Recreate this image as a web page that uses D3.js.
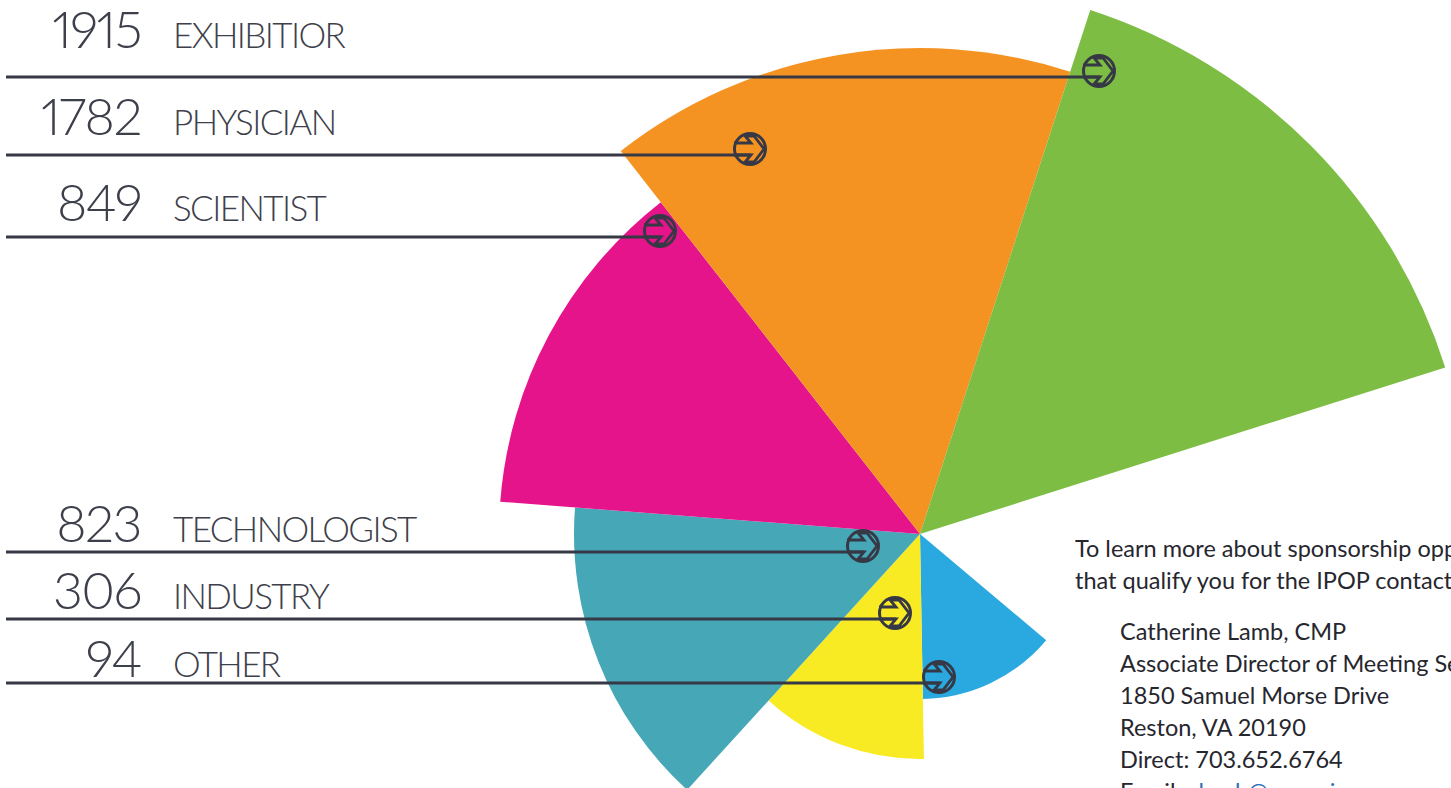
<!DOCTYPE html>
<html>
<head>
<meta charset="utf-8">
<script src="https://cdn.jsdelivr.net/npm/d3@7"></script>
<style>
  html, body { margin: 0; padding: 0; background: #fff; overflow: hidden; }
  #chart svg { display: block; }
  .count { font-variant-numeric: proportional-nums; font-feature-settings: "pnum" 1; }
</style>
</head>
<body>
<div id="chart"></div>
<script>
// attendee counts, clockwise order round the rose (smallest first)
const categories = ['OTHER', 'INDUSTRY', 'TECHNOLOGIST', 'SCIENTIST', 'PHYSICIAN', 'EXHIBITIOR'];
const attendees = [94, 306, 823, 849, 1782, 1915];

const introLines = [
    'To learn more about sponsorship opportunities',
    'that qualify you for the IPOP contact list,'
];
const contactLines = [
    'Catherine Lamb, CMP',
    'Associate Director of Meeting Services',
    '1850 Samuel Morse Drive',
    'Reston, VA 20190',
    'Direct: 703.652.6764'
];
const emailAddress = 'clamb@snmmi.org';

var IPOP = IPOP || {};
IPOP.AttendeeRose = {
    width: 1451,
    height: 788,
    center: [920, 534],

    init: function() {
        this.svg = d3.select('#chart').append('svg')
            .attr('width', this.width)
            .attr('height', this.height);

        this.color = d3.scaleOrdinal()
            .domain(categories)
            .range(['#2aa9e0', '#f8ea23', '#46a7b7', '#e5148b', '#f59322', '#7dbd43']);

        // petal length grows with the count, but the designer did not keep it proportional
        this.radius = d3.scaleLinear()
            .domain(attendees)
            .range([165, 225, 346, 421, 486, 551]);

        // slot edges in degrees, clockwise from 12 o'clock
        this.angle = d3.scaleLinear()
            .domain(d3.range(categories.length + 1))
            .range([130.1, 179, 222.3, 274.4, 322, 378, 432.4].map(d => d * Math.PI / 180));

        this.drawSlices();
        this.drawCallouts();
        this.drawContact();
    },

    drawSlices: function() {
        const arc = d3.arc()
            .innerRadius(0)
            .outerRadius(d => this.radius(d.value))
            .startAngle(d => this.angle(d.index))
            .endAngle(d => this.angle(d.index + 1));

        const data = categories.map((c, i) => ({ category: c, value: attendees[i], index: i }));

        this.svg.append('g')
            .attr('transform', `translate(${this.center[0]},${this.center[1]})`)
            .selectAll('path')
            .data(data)
            .enter().append('path')
            .attr('d', arc)
            .attr('fill', d => this.color(d.category));
    },

    drawCallouts: function() {
        // listed top to bottom, biggest first
        const rows = categories.map((c, i) => ({ category: c, value: attendees[i] })).reverse();
        const lineY = [77, 155, 237, 552, 619, 683];
        const iconX = [1099, 750, 660, 863, 895, 939];
        const textY = [48, 135, 221, 542, 609, 677];
        const ink = '#363945';
        const font = 'Lato, "Open Sans", sans-serif';

        const row = this.svg.append('g').selectAll('g')
            .data(rows)
            .enter().append('g');

        row.append('text')
            .attr('class', 'count')
            .attr('x', 141)
            .attr('y', (d, i) => textY[i])
            .attr('text-anchor', 'end')
            .attr('font-family', font)
            .attr('font-weight', 300)
            .attr('font-size', '52px')
            .attr('letter-spacing', '-1.5px')
            .attr('fill', '#3d404b')
            .text(d => d.value);

        row.append('text')
            .attr('x', 173)
            .attr('y', (d, i) => textY[i])
            .attr('font-family', font)
            .attr('font-weight', 300)
            .attr('font-size', '35px')
            .attr('letter-spacing', '-1.6px')
            .attr('fill', '#3d404b')
            .text(d => d.category);

        row.append('line')
            .attr('x1', 6)
            .attr('x2', (d, i) => iconX[i] + 1)
            .attr('y1', (d, i) => lineY[i])
            .attr('y2', (d, i) => lineY[i])
            .attr('stroke', ink)
            .attr('stroke-width', 3);

        const icon = row.append('g')
            .attr('transform', (d, i) => `translate(${iconX[i]},${lineY[i] - 6})`)
            .attr('fill', 'none')
            .attr('stroke', ink);

        icon.append('circle')
            .attr('r', 15.5)
            .attr('stroke-width', 3);

        icon.append('path')
            .attr('d', 'M-16,-6 L1,-6 L-5,-13 L4,-13 L14,0 L4,13 L-5,13 L1,6 L-16,6')
            .attr('stroke-width', 2.8)
            .attr('stroke-linejoin', 'miter');
    },

    drawContact: function() {
        const font = 'Lato, "Open Sans", sans-serif';
        const block = this.svg.append('g')
            .attr('font-family', font)
            .attr('font-size', '23.5px')
            .attr('fill', '#26262e');

        block.selectAll('text.intro')
            .data(introLines)
            .enter().append('text')
            .attr('class', 'intro')
            .attr('x', 1075)
            .attr('y', (d, i) => 557 + i * 32)
            .text(d => d);

        block.selectAll('text.contact')
            .data(contactLines)
            .enter().append('text')
            .attr('class', 'contact')
            .attr('x', 1120)
            .attr('y', (d, i) => 640 + i * 32)
            .text(d => d);

        const email = block.append('text')
            .attr('x', 1120)
            .attr('y', 640 + contactLines.length * 32);
        email.append('tspan').text('Email: ');
        email.append('tspan').attr('fill', '#2d6fb5').text(emailAddress);
    }
};

document.addEventListener('DOMContentLoaded', function() {
    IPOP.AttendeeRose.init();
});
</script>
</body>
</html>
